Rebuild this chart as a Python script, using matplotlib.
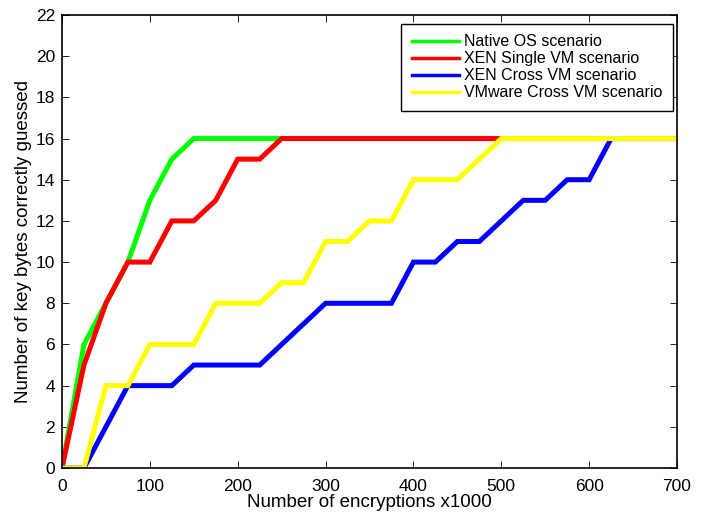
import numpy as np
import matplotlib
matplotlib.use('Agg')
import matplotlib.pyplot as plt

plt.rcParams['font.family'] = ['Liberation Sans', 'DejaVu Sans']

# Número de cifrados (x1000)
x = np.arange(0, 701, 25)

# Bytes de clave adivinados correctamente
native = [0, 6, 8, 10, 13, 15, 16, 16, 16, 16, 16, 16, 16, 16, 16,
          16, 16, 16, 16, 16, 16, 16, 16, 16, 16, 16, 16, 16, 16]
xen_single = [0, 5, 8, 10, 10, 12, 12, 13, 15, 15, 16, 16, 16, 16, 16,
              16, 16, 16, 16, 16, 16, 16, 16, 16, 16, 16, 16, 16, 16]
xen_cross = [0, 0, 2, 4, 4, 4, 5, 5, 5, 5, 6, 7, 8, 8, 8,
             8, 10, 10, 11, 11, 12, 13, 13, 14, 14, 16, 16, 16, 16]
vmware_cross = [0, 0, 4, 4, 6, 6, 6, 8, 8, 8, 9, 9, 11, 11, 12,
                12, 14, 14, 14, 15, 16, 16, 16, 16, 16, 16, 16, 16, 16]

labels = ['Native OS scenario', 'XEN Single VM scenario',
          'XEN Cross VM scenario', 'VMware Cross VM scenario']
colores = ['#00ff00', '#ff0000', '#0000ff', '#ffff00']

fig = plt.figure(figsize=(7.05, 5.17), dpi=100)
ax = fig.add_axes([62/705, 1 - 468/517, 615/705, 453/517])

for serie, lab, c in zip([native, xen_single, xen_cross, vmware_cross], labels, colores):
    ax.plot(x, serie, color=c, lw=3.6, label=lab, solid_joinstyle='miter')

ax.set_xlim(0, 700)
ax.set_ylim(0, 22)
ax.set_xticks(range(0, 701, 100))
ax.set_yticks(range(0, 23, 2))
ax.tick_params(direction='in', top=True, right=True, labelsize=12.5, length=5, width=0.6)
ax.tick_params(axis='x', pad=8)
ax.tick_params(axis='y', pad=5)
for s in ax.spines.values():
    s.set_linewidth(1.2)

ax.set_xlabel('Number of encryptions x1000', fontsize=13.5, labelpad=0)
ax.set_ylabel('Number of key bytes correctly guessed', fontsize=13.5, labelpad=3)

leg = ax.legend(loc='upper right', bbox_to_anchor=(0.9935, 0.980), fontsize=11.5,
                fancybox=False, framealpha=1, edgecolor='black', borderaxespad=0,
                handlelength=3.0, labelspacing=0.12, borderpad=0.65, handletextpad=0.3)
leg.get_frame().set_linewidth(1.0)
for h in leg.get_lines():
    h.set_linewidth(2.5)

fig.savefig('out.png', dpi=100)
